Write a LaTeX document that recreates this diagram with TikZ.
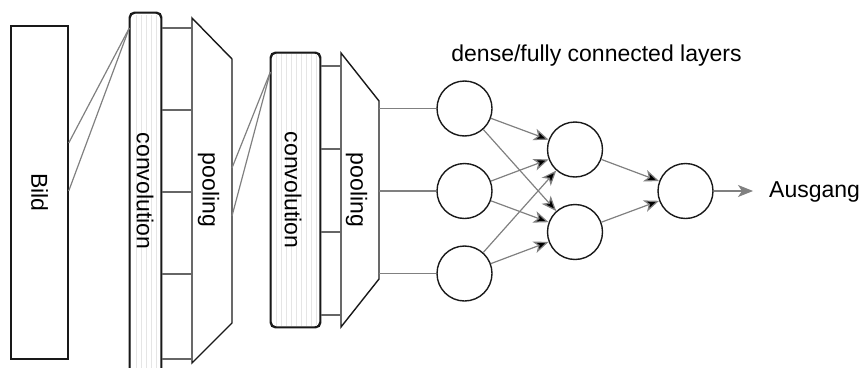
\documentclass[tikz,border=0pt]{standalone}
\usepackage{fontspec}
\setmainfont{Liberation Sans}
\usetikzlibrary{arrows.meta}

\tikzset{
  layerbox/.style={draw=black!90, line width=1.4pt, fill=white},
  stripe/.style={draw=black!10, line width=0.7pt},
  link/.style={draw=black!50, line width=1.2pt},
  neuron/.style={circle, draw=black!90, line width=1.4pt, minimum size=55pt, inner sep=0pt},
  >={Stealth[length=15pt, width=12pt, inset=4pt]}
}

\begin{document}
\begin{tikzpicture}[x=1pt, y=-1pt, font=\fontsize{23}{27}\selectfont]
        \useasboundingbox (0,0) rectangle (867,367);

        % input image
        \node at (39.5,192.5) [layerbox, rectangle, minimum width=57pt, minimum height=333pt] (bild) {};
        \node at (bild) [rotate=-90] (bildtxt) {Bild};

        % first convolution + pooling
        \node at (145.5,199) [layerbox, rectangle, rounded corners=5pt, minimum width=31pt, minimum height=372pt] (conv1) {};
        \foreach \x in {136,141,146,151,156}
             \draw [stripe] (\x,15) -- (\x,384);
        \draw [line width=1.4pt, draw=black!90, rounded corners=5pt] (conv1.south west) rectangle (conv1.north east);
        \node at (145,191) [rotate=-90] (conv1txt) {convolution};

        \coordinate (p1a) at (192,18);
        \coordinate (p1b) at (232,59);
        \coordinate (p1c) at (232,323);
        \coordinate (p1d) at (192,363);
        \draw [layerbox, line join=miter] (p1a) -- (p1b) -- (p1c) -- (p1d) -- cycle;
        \node at (208.5,190) [rotate=-90] (pool1txt) {pooling};

        % second convolution + pooling
        \node at (295.5,190) [layerbox, rectangle, rounded corners=5pt, minimum width=49pt, minimum height=274pt] (conv2) {};
        \foreach \x in {276,281,...,316}
             \draw [stripe] (\x,54) -- (\x,326);
        \draw [line width=1.4pt, draw=black!90, rounded corners=5pt] (conv2.south west) rectangle (conv2.north east);
        \node at (293,190) [rotate=-90] (conv2txt) {convolution};

        \coordinate (p2a) at (341,53);
        \coordinate (p2b) at (379,101);
        \coordinate (p2c) at (379,279);
        \coordinate (p2d) at (341,327);
        \draw [layerbox, line join=miter] (p2a) -- (p2b) -- (p2c) -- (p2d) -- cycle;
        \node at (356.5,190) [rotate=-90] (pool2txt) {pooling};

        % receptive fields
        \coordinate (bf1) at (bild.east |- 0,143);
        \coordinate (bf2) at (bild.east |- 0,191);
        \coordinate (cf1) at (conv1.west |- 0,28);
        \draw [link] (bf1) -- (cf1);
        \draw [link] (bf2) -- (cf1);

        \coordinate (pf1) at (p1b |- 0,168);
        \coordinate (pf2) at (p1b |- 0,216);
        \coordinate (cf2) at (conv2.west |- 0,72);
        \draw [link] (pf1) -- (cf2);
        \draw [link] (pf2) -- (cf2);

        % conv -> pooling
        \foreach \y in {28,110,192,274,359}
             \draw [link, draw=black!60] (conv1.east |- 0,\y) -- (p1a |- 0,\y);
        \foreach \y in {66,149,232,315}
             \draw [link, draw=black!60] (conv2.east |- 0,\y) -- (p2a |- 0,\y);

        % dense layers
        \node at (596.5,61) [anchor=base] (dense) {dense/fully connected layers};

        \node at (464.5,108.5) [neuron] (d1) {};
        \node at (464.5,191) [neuron] (d2) {};
        \node at (464.5,273.5) [neuron] (d3) {};

        \node at (575,149.5) [neuron] (h1) {};
        \node at (575,232) [neuron] (h2) {};

        \node at (685.5,191) [neuron] (out) {};
        \coordinate (outend) at (753,191);
        \node at (769,197) [anchor=base west, inner sep=0pt] (ausgang) {Ausgang};

        \draw [link] (p2b |- d1) -- (d1);
        \draw [link] (p2b |- d2) -- (d2);
        \draw [link] (p2b |- d3) -- (d3);

        \draw [link, ->] (d1) edge (h1);
        \draw [link, ->] (d1) edge (h2);
        \draw [link, ->] (d2) edge (h1);
        \draw [link, ->] (d2) edge (h2);
        \draw [link, ->] (d3) edge (h1);
        \draw [link, ->] (d3) edge (h2);

        \draw [link, ->] (h1) edge (out);
        \draw [link, ->] (h2) edge (out);
        \draw [link, ->] (out) -- (outend);
\end{tikzpicture}
\end{document}
